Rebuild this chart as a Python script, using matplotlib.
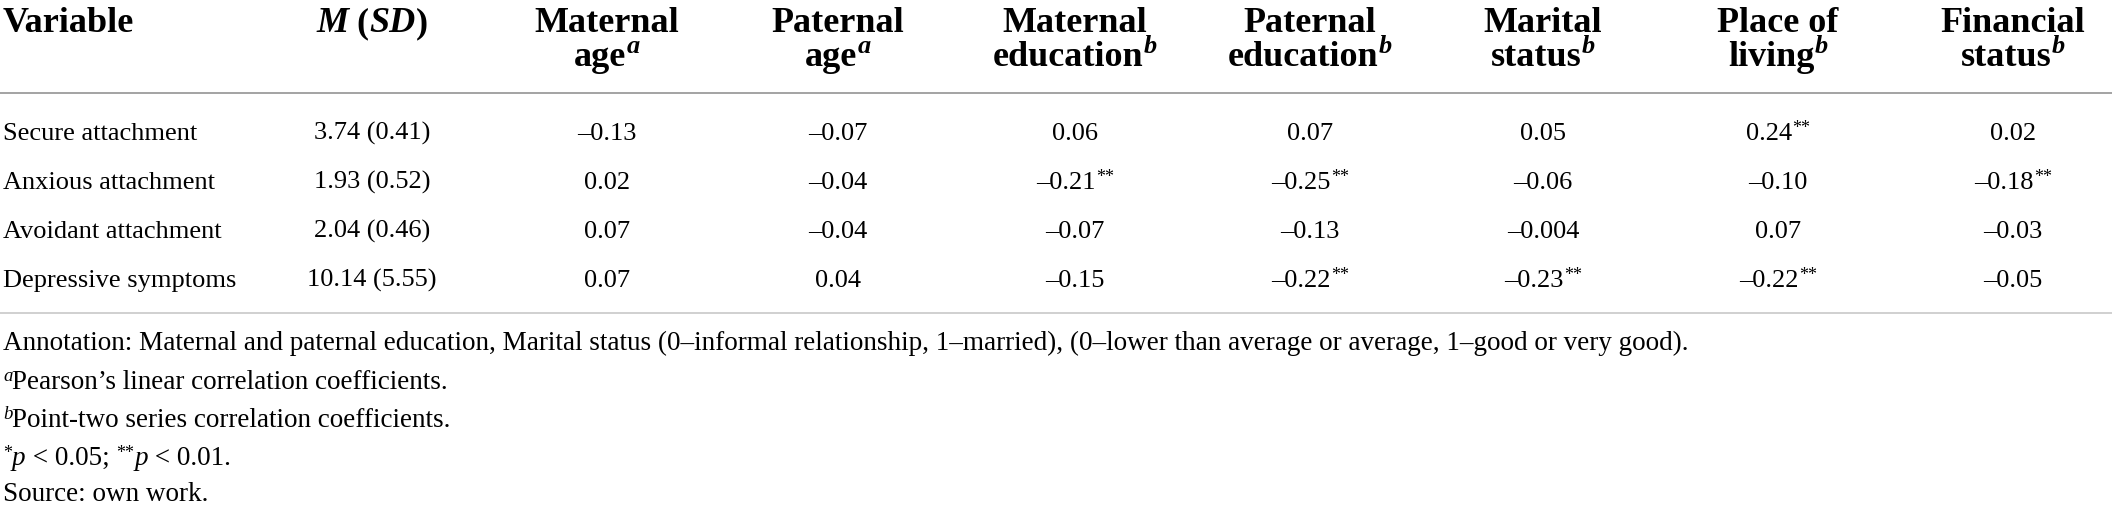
import matplotlib
matplotlib.use("Agg")
import matplotlib.pyplot as plt

# table contents
variables = ["Secure attachment", "Anxious attachment", "Avoidant attachment", "Depressive symptoms"]
mean_sd = ["3.74 (0.41)", "1.93 (0.52)", "2.04 (0.46)", "10.14 (5.55)"]

head_line1 = ["Maternal", "Paternal", "Maternal", "Paternal", "Marital", "Place of", "Financial"]
head_line2 = ["age", "age", "education", "education", "status", "living", "status"]
head_sup = ["a", "a", "b", "b", "b", "b", "b"]

corr = [
    ["-0.13", "-0.07", "0.06", "0.07", "0.05", "0.24", "0.02"],
    ["0.02", "-0.04", "-0.21", "-0.25", "-0.06", "-0.10", "-0.18"],
    ["0.07", "-0.04", "-0.07", "-0.13", "-0.004", "0.07", "-0.03"],
    ["0.07", "0.04", "-0.15", "-0.22", "-0.23", "-0.22", "-0.05"],
]
stars = [
    ["", "", "", "", "", "**", ""],
    ["", "", "**", "**", "", "", "**"],
    ["", "", "", "", "", "", ""],
    ["", "", "", "**", "**", "**", ""],
]

note_text = ("Annotation: Maternal and paternal education, Marital status (0\u2013informal relationship, "
             "1\u2013married), (0\u2013lower than average or average, 1\u2013good or very good).")
note_a = "Pearson\u2019s linear correlation coefficients."
note_b = "Point-two series correlation coefficients."
source = "Source: own work."

FONT = "Liberation Serif"
W, H = 2117, 507

fig = plt.figure(figsize=(W / 100, H / 100), dpi=100)
ax = fig.add_axes([0, 0, 1, 1])
ax.set_xlim(0, W)
ax.set_ylim(H, 0)
ax.axis("off")
renderer = fig.canvas.get_renderer()


def adv(s, **kw):
    # advance width in pixels (keeps spaces)
    t1 = ax.text(0, 0, "|" + s + "|", family=FONT, **kw)
    t2 = ax.text(0, 0, "||", family=FONT, **kw)
    w = t1.get_window_extent(renderer).width - t2.get_window_extent(renderer).width
    t1.remove()
    t2.remove()
    return w


def runs(x, y, parts, ha="left"):
    widths = [adv(s, **kw) for s, kw, dy in parts]
    x0 = x - sum(widths) / 2 if ha == "center" else x
    for (s, kw, dy), w in zip(parts, widths):
        ax.text(x0, y + dy, s, family=FONT, ha="left", va="baseline", **kw)
        x0 += w


body = dict(fontsize=19)
head = dict(fontsize=26, weight="bold")
head_s = dict(fontsize=19, weight="bold", style="italic")
star_kw = dict(fontsize=13)

col_x = [607, 838, 1075, 1310, 1543, 1778, 2013]
msd_x = 372
left_x = 3

# header
hb1, hb2 = 32, 66
runs(left_x, hb1, [("Variable", head, 0)])
runs(msd_x, hb1, [("M", dict(head, style="italic"), 0), (" (", head, 0),
                  ("SD", dict(head, style="italic"), 0), (")", head, 0)], ha="center")
for x, l1, l2, sp in zip(col_x, head_line1, head_line2, head_sup):
    runs(x, hb1, [(l1, head, 0)], ha="center")
    runs(x, hb2, [(l2, head, 0), (sp, head_s, -13)], ha="center")

ax.plot([0, 2112], [93, 93], color="#8a8a8a", lw=1.1, solid_capstyle="butt")

# body rows
row_y = [140, 189, 238, 287]
for i, y in enumerate(row_y):
    runs(left_x, y, [(variables[i], body, 0)])
    runs(msd_x, y, [(mean_sd[i], body, 0)], ha="center")
    for j, x in enumerate(col_x):
        val = corr[i][j].replace("-", "\u2013")
        parts = [(val, body, 0)]
        if stars[i][j]:
            parts.append((stars[i][j], star_kw, -7))
        runs(x, y, parts, ha="center")

ax.plot([0, 2112], [313, 313], color="#c4c4c4", lw=1.1, solid_capstyle="butt")

# footnotes
fn = dict(fontsize=19.5)
fn_sup = dict(fontsize=13.5, style="italic")
runs(left_x, 350, [(note_text, fn, 0)])
runs(left_x, 389, [("a", fn_sup, -8), (note_a, fn, 0)])
runs(left_x, 427, [("b", fn_sup, -8), (note_b, fn, 0)])
runs(left_x, 465, [("*", star_kw, -7), ("p", dict(fn, style="italic"), 0), (" < 0.05; ", fn, 0),
                   ("**", star_kw, -7), ("p", dict(fn, style="italic"), 0), (" < 0.01.", fn, 0)])
runs(left_x, 501, [(source, fn, 0)])

fig.savefig("out.png", dpi=100, facecolor="white")
